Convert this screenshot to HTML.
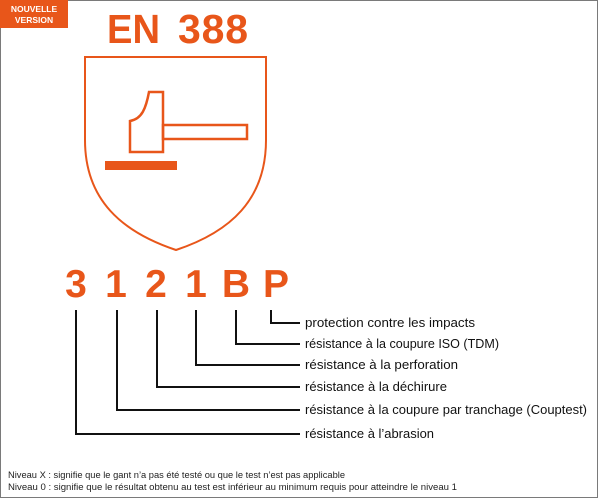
<!DOCTYPE html>
<html><head><meta charset="utf-8"><style>
body{margin:0;background:#fff;}
svg{display:block}
</style></head><body>
<svg width="600" height="500" viewBox="0 0 600 500" xmlns="http://www.w3.org/2000/svg">
<rect x="0.5" y="0.5" width="597" height="497" fill="#fff" stroke="#7a7a7a" stroke-width="1"/>
<rect x="0" y="0" width="68" height="28" fill="#e8561a"/>
<text x="34" y="12" font-family="Liberation Sans, sans-serif" font-weight="bold" font-size="8.5" fill="#fff" text-anchor="middle">NOUVELLE</text>
<text x="34" y="23" font-family="Liberation Sans, sans-serif" font-weight="bold" font-size="8.5" fill="#fff" text-anchor="middle">VERSION</text>
<g font-family="Liberation Sans, sans-serif" font-weight="bold" font-size="41" fill="#e8561a">
<text x="107" y="43" textLength="53" lengthAdjust="spacingAndGlyphs">EN</text>
<text x="178" y="43" textLength="70" lengthAdjust="spacing">388</text>
</g>
<path d="M85 57 H266 V140 C266 200 230 232 176 250 C122 232 85 200 85 140 Z" fill="none" stroke="#e8561a" stroke-width="2"/>
<path d="M130 152 V121 C142 119 146 108 149 92 H163 V152 Z" fill="none" stroke="#e8561a" stroke-width="2.5"/>
<rect x="163" y="125" width="84" height="14" fill="none" stroke="#e8561a" stroke-width="2.5"/>
<rect x="105" y="161" width="72" height="9" fill="#e8561a"/>
<g font-family="Liberation Sans, sans-serif" font-weight="bold" font-size="39" fill="#e8561a" text-anchor="middle">
<text x="76" y="297">3</text><text x="116" y="297">1</text><text x="156" y="297">2</text><text x="196" y="297">1</text><text x="236" y="297">B</text><text x="276" y="297">P</text>
</g>
<g fill="none" stroke="#111" stroke-width="2">
<path d="M271 310 V323 H300"/>
<path d="M236 310 V344 H300"/>
<path d="M196 310 V365 H300"/>
<path d="M157 310 V387 H300"/>
<path d="M117 310 V410 H300"/>
<path d="M76 310 V434 H300"/>
</g>
<g font-family="Liberation Sans, sans-serif" font-size="12.5" fill="#111">
<text x="305" y="327" textLength="170" lengthAdjust="spacingAndGlyphs">protection contre les impacts</text>
<text x="305" y="348" textLength="194" lengthAdjust="spacingAndGlyphs">résistance à la coupure ISO (TDM)</text>
<text x="305" y="369" textLength="153" lengthAdjust="spacingAndGlyphs">résistance à la perforation</text>
<text x="305" y="391" textLength="142" lengthAdjust="spacingAndGlyphs">résistance à la déchirure</text>
<text x="305" y="414" textLength="282" lengthAdjust="spacingAndGlyphs">résistance à la coupure par tranchage (Couptest)</text>
<text x="305" y="438" textLength="129" lengthAdjust="spacingAndGlyphs">résistance à l’abrasion</text>
</g>
<g font-family="Liberation Sans, sans-serif" font-size="9" fill="#222">
<text x="8" y="478" textLength="337" lengthAdjust="spacingAndGlyphs">Niveau X : signifie que le gant n’a pas été testé ou que le test n’est pas applicable</text>
<text x="8" y="490" textLength="449" lengthAdjust="spacingAndGlyphs">Niveau 0 : signifie que le résultat obtenu au test est inférieur au minimum requis pour atteindre le niveau 1</text>
</g>
</svg>
</body></html>
